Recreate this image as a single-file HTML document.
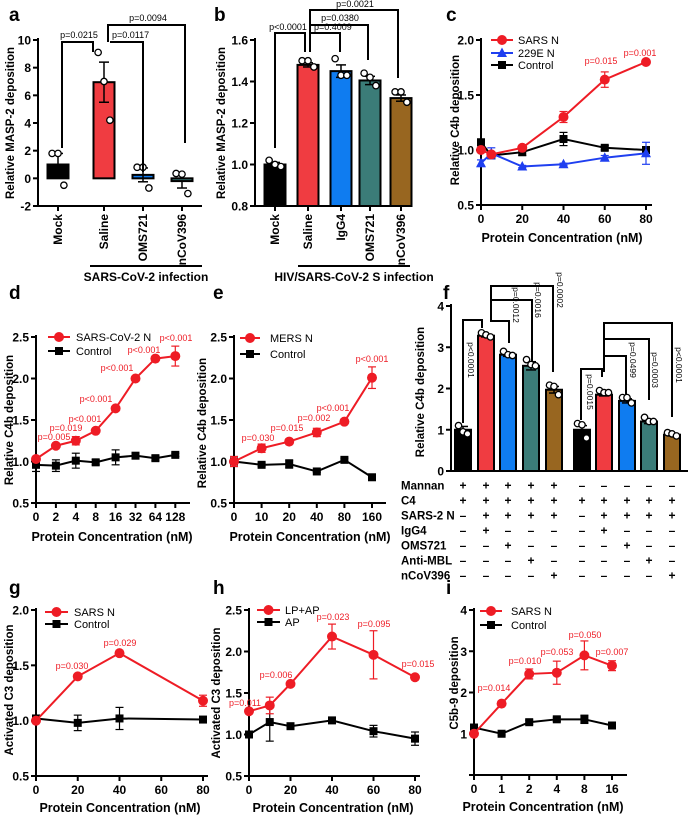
<!DOCTYPE html>
<html><head><meta charset="utf-8"><style>
html,body{margin:0;padding:0;background:#fff;}
svg{display:block;font-family:"Liberation Sans",Arial,sans-serif;}
</style></head><body>
<svg id="fig" width="688" height="816" viewBox="0 0 688 816" xmlns="http://www.w3.org/2000/svg"></svg>
<script>
// ---------- DATA ----------
const aCats = ["Mock","Saline","OMS721","nCoV396"];
const aVals = [1.0, 6.95, 0.25, -0.2];
const aErrs = [0.8, 1.45, 0.5, 0.5];
const aDots = [[1.8,1.8,-0.5],[9.1,7.0,4.2],[0.8,0.8,-0.7],[0.35,0.3,-1.1]];
const bCats = ["Mock","Saline","IgG4","OMS721","nCoV396"];
const bVals = [1.0, 1.48, 1.45, 1.405, 1.32];
const bErrs = [0.01, 0.01, 0.03, 0.02, 0.015];
const bDots = [[1.02,1.0,0.99],[1.5,1.5,1.47],[1.51,1.43,1.43],[1.44,1.42,1.38],[1.35,1.35,1.3]];
const cX = [0,5,20,40,60,80];
const cSars = [1.0,0.96,1.02,1.3,1.64,1.8];
const cSarsErr = [0.02,0.02,0.02,0.05,0.07,0.01];
const c229 = [0.88,0.97,0.85,0.87,0.93,0.97];
const c229Err = [0.03,0.05,0.01,0.01,0.02,0.1];
const cCtrl = [1.07,0.95,0.98,1.1,1.02,1.0];
const cCtrlErr = [0.03,0.03,0.03,0.06,0.02,0.03];
const dCats = ["0","2","4","8","16","32","64","128"];
const dSars = [1.03,1.19,1.25,1.37,1.64,2.0,2.24,2.27];
const dSarsErr = [0.03,0.02,0.05,0.02,0.02,0.01,0.02,0.12];
const dCtrl = [0.96,0.95,1.01,0.99,1.05,1.07,1.04,1.08];
const dCtrlErr = [0.08,0.07,0.09,0.03,0.09,0.03,0.03,0.02];
const eCats = ["0","10","20","40","80","160"];
const eMers = [1.0,1.16,1.24,1.35,1.48,2.01];
const eMersErr = [0.06,0.05,0.03,0.05,0.02,0.13];
const eCtrl = [1.0,0.96,0.97,0.88,1.02,0.81];
const eCtrlErr = [0.06,0.02,0.05,0.01,0.02,0.01];
const fVals = [1.0,3.28,2.82,2.55,1.97, 1.0,1.85,1.7,1.2,0.88];
const fErrs = [0.08,0.03,0.04,0.1,0.08, 0.1,0.03,0.05,0.05,0.03];
const fDots = [[1.1,0.95,0.9],[3.35,3.3,3.25],[2.9,2.82,2.8],[2.7,2.58,2.55],[2.08,2.05,1.85],[1.15,1.12,0.8],[1.95,1.9,1.9],[1.78,1.78,1.65],[1.3,1.2,1.2],[0.93,0.9,0.85]];
const fColors = ["#000000","#f03c41","#0f7cf0","#3b7c78","#986620","#000000","#f03c41","#0f7cf0","#3b7c78","#986620"];
const fRowNames = ["Mannan","C4","SARS-2 N","IgG4","OMS721","Anti-MBL","nCoV396"];
const fRows = ["+++++-----","++++++++++","-++++-++++","-+----+---","--+----+--","---+----+-","----+----+"];
const gX = [0,20,40,80];
const gSars = [1.0,1.4,1.61,1.18];
const gSarsErr = [0.01,0.02,0.01,0.05];
const gCtrl = [1.02,0.98,1.02,1.01];
const gCtrlErr = [0.02,0.07,0.1,0.01];
const hX = [0,10,20,40,60,80];
const hLP = [1.28,1.35,1.61,2.18,1.96,1.69];
const hLPErr = [0.02,0.1,0.03,0.15,0.29,0.02];
const hAP = [1.0,1.15,1.1,1.17,1.04,0.95];
const hAPErr = [0.01,0.23,0.02,0.02,0.07,0.08];
const iCats = ["0","1","2","4","8","16"];
const iSars = [1.0,1.73,2.45,2.48,2.9,2.65];
const iSarsErr = [0.05,0.05,0.12,0.28,0.35,0.12];
const iCtrl = [1.15,1.0,1.28,1.35,1.35,1.2];
const iCtrlErr = [0.08,0.03,0.05,0.05,0.1,0.03];

// ---------- HELPERS ----------
const NS = "http://www.w3.org/2000/svg";
const svg = document.getElementById('fig');
const RED = "#ee1c25", BLUE = "#1f3ff0";
function mk(tag, attrs, name, parent) {
  const e = document.createElementNS(NS, tag);
  for (const k in attrs) e.setAttribute(k, attrs[k]);
  
  
  (parent || svg).appendChild(e);
  return e;
}
function line(x1,y1,x2,y2,name,stroke,w){ return mk('line',{x1:x1,y1:y1,x2:x2,y2:y2,stroke:stroke||'#000','stroke-width':w||2},name); }
function txt(x,y,s,name,o){
  o=o||{};
  const a={x:x,y:y,'font-size':o.size||12,'font-weight':o.weight||'bold',fill:o.fill||'#000','text-anchor':o.anchor||'middle'};
  if(o.rot!==undefined) a.transform='rotate('+o.rot+' '+x+' '+y+')';
  const t=mk('text',a,name);
  t.textContent=s; return t;
}
function panelLetter(x,y,s){ txt(x,y,s,'panel-label-'+s,{size:19,anchor:'start'}); }
function yAxis(p, ticks, labels, name){
  line(p.x0, p.yt-2, p.x0, p.yb+1, name+'-y-axis');
  ticks.forEach((v,i)=>{
    const y=p.ys(v);
    line(p.x0-5,y,p.x0,y,name+'-y-tick');
    if(labels[i]!=='') txt(p.x0-7,y+4.5,labels[i],name+'-y-tick-label',{anchor:'end',size:12});
  });
}
function yTitle(x,y,s,name){ txt(x,y,s,name,{rot:-90,size:11.5}); }
function marker(type,x,y,color,name){
  if(type==='c') mk('circle',{cx:x,cy:y,r:5,fill:color},name);
  else if(type==='s') mk('rect',{x:x-4,y:y-4,width:8,height:8,fill:color},name);
  else mk('polygon',{points:(x)+','+(y-5.5)+' '+(x-5)+','+(y+4)+' '+(x+5)+','+(y+4),fill:color},name);
}
function series(p, xs, vals, errs, color, type, name){
  let d='';
  vals.forEach((v,i)=>{ d+=(i?'L':'M')+p.xs(xs[i],i)+','+p.ys(v); });
  mk('path',{d:d,fill:'none',stroke:color,'stroke-width':2},name+'-line');
  vals.forEach((v,i)=>{
    const x=p.xs(xs[i],i);
    const y1=p.ys(v+errs[i]), y2=p.ys(v-errs[i]);
    line(x,y1,x,y2,name+'-error-bar',color,1.2);
    line(x-4,y1,x+4,y1,name+'-error-cap',color,1.2);
    line(x-4,y2,x+4,y2,name+'-error-cap',color,1.2);
  });
  vals.forEach((v,i)=>{ marker(type,p.xs(xs[i],i),p.ys(v),color,name+'-point'); });
}
function legend(x1,x2,y,tx,label,color,type,name){
  line(x1,y,x2,y,name+'-legend-line',color,2);
  marker(type,(x1+x2)/2,y,color,name+'-legend-marker');
  txt(tx,y+4,label,name+'-legend-label',{anchor:'start',size:11,weight:'normal'});
}
function ptxt(x,y,s,name,o){ o=o||{}; return txt(x,y,s,name,{size:o.size||9,weight:'normal',fill:o.fill||'#000',anchor:o.anchor||'middle',rot:o.rot}); }
function mkScale(x0,xEnd,yt,yb,ymin,ymax,xfun){
  return {x0:x0,xEnd:xEnd,yt:yt,yb:yb,ys:v=>yb-(v-ymin)/(ymax-ymin)*(yb-yt),xs:xfun};
}
function xAxisNum(p, ticks, labels, name){
  line(p.x0-1,p.yb,p.xEnd,p.yb,name+'-x-axis');
  ticks.forEach((t,i)=>{
    const x=p.xs(t,i);
    line(x,p.yb,x,p.yb+5,name+'-x-tick');
    txt(x,p.yb+18,labels[i],name+'-x-tick-label',{size:12});
  });
}
function bars(p, vals, errs, dots, colors, cx, w, base, name){
  vals.forEach((v,i)=>{
    const x=cx[i], y0=p.ys(base), y=p.ys(v);
    mk('rect',{x:x-w/2,y:Math.min(y,y0),width:w,height:Math.abs(y0-y),fill:colors[i],stroke:'#000','stroke-width':2},name+'-bar');
    const ye=p.ys(v+(v>=0?errs[i]:-errs[i]));
    line(x,y,x,ye,name+'-error-bar','#000',1.5);
    line(x-5,ye,x+5,ye,name+'-error-cap','#000',1.5);
    if(v>=0){ const yl=p.ys(v-errs[i]); line(x,y,x,yl,name+'-error-bar','#000',1.5); line(x-5,yl,x+5,yl,name+'-error-cap','#000',1.5);}
    dots[i].forEach((d,j)=>{
      mk('circle',{cx:x+(j-1)*w*0.28,cy:p.ys(d),r:3.2,fill:'#fff',stroke:'#000','stroke-width':1.3},name+'-data-point');
    });
  });
}
function bracket(xl,yl,xr,yr,ytop,name){
  mk('path',{d:'M'+xl+','+yl+'V'+ytop+'H'+xr+'V'+yr,fill:'none',stroke:'#000','stroke-width':2},name);
}

// ---------- PANEL A ----------
panelLetter(9,21,'a');
(function(){
  const cx=[58,104,143,182];
  const p=mkScale(38,202,40,206,-2,10,null);
  yAxis(p,[-2,0,2,4,6,8,10],['-2','0','2','4','6','8','10'],'a');
  line(37,206,202,206,'a-x-axis');
  bars(p,aVals,aErrs,aDots,['#000','#f03c41','#0f7cf0','#3b7c78'],cx,21,0,'a');
  aCats.forEach((c,i)=>{ line(cx[i],206,cx[i],211,'a-x-tick'); txt(cx[i]+4,214,c,'a-x-tick-label',{rot:-90,anchor:'end',size:12}); });
  yTitle(14,123,'Relative MASP-2 deposition','a-y-axis-title');
  bracket(62,148,93,52,42,'a-bracket-mock-saline');
  ptxt(79,38,'p=0.0215','a-p-value');
  bracket(110,42,143,172,42,'a-bracket-saline-oms721');
  ptxt(112,38,'p=0.0117','a-p-value',{anchor:'start'});
  bracket(108,42,185,143,25,'a-bracket-saline-ncov396');
  ptxt(148,21,'p=0.0094','a-p-value');
  line(90,266,202,266,'a-group-line');
  txt(146,281,'SARS-CoV-2 infection','a-group-label',{size:12});
})();

// ---------- PANEL B ----------
panelLetter(214,21,'b');
(function(){
  const cx=[275,308,341,370,401];
  const p=mkScale(255,412,40,206,0.8,1.6,null);
  yAxis(p,[0.8,1.0,1.2,1.4,1.6],['0.8','1.0','1.2','1.4','1.6'],'b');
  line(254,206,412,206,'b-x-axis');
  bars(p,bVals,bErrs,bDots,['#000','#f03c41','#0f7cf0','#3b7c78','#986620'],cx,21,0.8,'b');
  bCats.forEach((c,i)=>{ line(cx[i],206,cx[i],211,'b-x-tick'); txt(cx[i]+4,214,c,'b-x-tick-label',{rot:-90,anchor:'end',size:12}); });
  yTitle(225,123,'Relative MASP-2 deposition','b-y-axis-title');
  bracket(275,148,305,52,33,'b-bracket-mock-saline');
  ptxt(288,30,'p<0.0001','b-p-value');
  bracket(310,52,340,52,33,'b-bracket-saline-igg4');
  ptxt(314,30,'p=0.4009','b-p-value',{anchor:'start'});
  bracket(310,33,368,60,25,'b-bracket-saline-oms721');
  ptxt(340,21,'p=0.0380','b-p-value');
  bracket(310,25,398,78,10,'b-bracket-saline-ncov396');
  ptxt(355,7,'p=0.0021','b-p-value');
  line(298,266,410,266,'b-group-line');
  txt(354,281,'HIV/SARS-CoV-2 S infection','b-group-label',{size:12});
})();

// ---------- PANEL C ----------
panelLetter(446,21,'c');
(function(){
  const p=mkScale(481,652,40,205,0.5,2.0,(x)=>481+x/80*165);
  yAxis(p,[0.5,1.0,1.5,2.0],['0.5','1.0','1.5','2.0'],'c');
  xAxisNum(p,[0,20,40,60,80],['0','20','40','60','80'],'c');
  series(p,cX,cCtrl,cCtrlErr,'#000','s','c-control');
  series(p,cX,c229,c229Err,BLUE,'t','c-229e-n');
  series(p,cX,cSars,cSarsErr,RED,'c','c-sars-n');
  legend(491,513,40,518,'SARS N',RED,'c','c-sars-n');
  legend(491,513,53,518,'229E N',BLUE,'t','c-229e-n');
  legend(491,513,65,518,'Control','#000','s','c-control');
  ptxt(601,64,'p=0.015','c-p-value',{fill:RED});
  ptxt(640,56,'p=0.001','c-p-value',{fill:RED});
  yTitle(459,120,'Relative C4b deposition','c-y-axis-title');
  txt(562,242,'Protein Concentration (nM)','c-x-axis-title',{size:12.5});
})();

// ---------- PANEL D ----------
panelLetter(9,299,'d');
(function(){
  const p=mkScale(36,190,337,503,0.5,2.5,(x,i)=>36+i*19.9);
  yAxis(p,[0.5,1.0,1.5,2.0,2.5],['0.5','1.0','1.5','2.0','2.5'],'d');
  xAxisNum(p,dCats,dCats,'d');
  series(p,dCats,dCtrl,dCtrlErr,'#000','s','d-control');
  series(p,dCats,dSars,dSarsErr,RED,'c','d-sars-cov-2-n');
  legend(48,70,337,76,'SARS-CoV-2 N',RED,'c','d-sars-cov-2-n');
  legend(48,70,351,76,'Control','#000','s','d-control');
  const pl=[[54,440,'p=0.005'],[66,431,'p=0.019'],[85,422,'p<0.001'],[96,402,'p<0.001'],[117,371,'p<0.001'],[144,353,'p<0.001'],[176,341,'p<0.001']];
  pl.forEach(a=>ptxt(a[0],a[1],a[2],'d-p-value',{fill:RED}));
  yTitle(13,420,'Relative C4b deposition','d-y-axis-title');
  txt(112,541,'Protein Concentration (nM)','d-x-axis-title',{size:12.5});
})();

// ---------- PANEL E ----------
panelLetter(213,299,'e');
(function(){
  const p=mkScale(234,386,337,503,0.5,2.5,(x,i)=>234+i*27.6);
  yAxis(p,[0.5,1.0,1.5,2.0,2.5],['0.5','1.0','1.5','2.0','2.5'],'e');
  xAxisNum(p,eCats,eCats,'e');
  series(p,eCats,eCtrl,eCtrlErr,'#000','s','e-control');
  series(p,eCats,eMers,eMersErr,RED,'c','e-mers-n');
  legend(240,260,338,270,'MERS N',RED,'c','e-mers-n');
  legend(240,260,354,270,'Control','#000','s','e-control');
  const pl=[[258,441,'p=0.030'],[287,431,'p=0.015'],[314,421,'p=0.002'],[333,411,'p<0.001'],[372,362,'p<0.001']];
  pl.forEach(a=>ptxt(a[0],a[1],a[2],'e-p-value',{fill:RED}));
  yTitle(206,423,'Relative C4b deposition','e-y-axis-title');
  txt(310,541,'Protein Concentration (nM)','e-x-axis-title',{size:12.5});
})();

// ---------- PANEL F ----------
panelLetter(443,299,'f');
(function(){
  const cx=[463,486,508,531,554,582,604,627,649,672];
  const p=mkScale(451,688,306,471,0,4,null);
  yAxis(p,[0,1,2,3,4],['0','1','2','3','4'],'f');
  line(450,471,688,471,'f-x-axis');
  bars(p,fVals,fErrs,fDots,fColors,cx,16,0,'f');
  yTitle(424,392,'Relative C4b deposition','f-y-axis-title');
  bracket(463,423,482,328,320,'f-bracket-1');
  bracket(491,322,509,343,321,'f-bracket-2');
  bracket(491,322,532,362,300,'f-bracket-3');
  bracket(491,301,553,372,286,'f-bracket-4');
  bracket(581,420,602,377,369,'f-bracket-5');
  bracket(604,372,626,395,356,'f-bracket-6');
  bracket(604,357,649,400,339,'f-bracket-7');
  bracket(604,340,672,417,323,'f-bracket-8');
  const pv=[[468,360,'p<0.0001'],[513,305,'p=0.0012'],[535,300,'p=0.0016'],[557,290,'p=0.0002'],[587,392,'p=0.0015'],[630,360,'p=0.0499'],[652,370,'p=0.0003'],[676,365,'p<0.0001']];
  pv.forEach(a=>ptxt(a[0],a[1],a[2],'f-p-value',{rot:90,size:8.5}));
  fRowNames.forEach((n,r)=>{
    const y=485+r*15;
    txt(401,y+4.5,n,'f-condition-label',{anchor:'start',size:11.5});
    fRows[r].split('').forEach((s,i)=>{
      txt(cx[i],y+4.5,s==='+'?'+':'\u2013','f-condition-sign',{size:12});
    });
  });
})();

// ---------- PANEL G ----------
panelLetter(9,594,'g');
(function(){
  const p=mkScale(36,208,610,776,0.5,2.0,(x)=>36+x/80*167);
  yAxis(p,[0.5,1.0,1.5,2.0],['0.5','1.0','1.5','2.0'],'g');
  xAxisNum(p,[0,20,40,60,80],['0','20','40','60','80'],'g');
  series(p,gX,gCtrl,gCtrlErr,'#000','s','g-control');
  series(p,gX,gSars,gSarsErr,RED,'c','g-sars-n');
  legend(45,68,612,74,'SARS N',RED,'c','g-sars-n');
  legend(45,68,624,74,'Control','#000','s','g-control');
  ptxt(72,669,'p=0.030','g-p-value',{fill:RED});
  ptxt(120,646,'p=0.029','g-p-value',{fill:RED});
  yTitle(13,690,'Activated C3 deposition','g-y-axis-title');
  txt(120,812,'Protein Concentration (nM)','g-x-axis-title',{size:12.5});
})();

// ---------- PANEL H ----------
panelLetter(213,594,'h');
(function(){
  const p=mkScale(249,420,610,776,0.5,2.5,(x)=>249+x/80*166);
  yAxis(p,[0.5,1.0,1.5,2.0,2.5],['0.5','1.0','1.5','2.0','2.5'],'h');
  xAxisNum(p,[0,20,40,60,80],['0','20','40','60','80'],'h');
  series(p,hX,hAP,hAPErr,'#000','s','h-ap');
  series(p,hX,hLP,hLPErr,RED,'c','h-lp-ap');
  legend(257,280,610,285,'LP+AP',RED,'c','h-lp-ap');
  legend(257,280,622,285,'AP','#000','s','h-ap');
  const pl=[[245,706,'p=0.011'],[276,678,'p=0.006'],[333,620,'p=0.023'],[374,627,'p=0.095'],[418,667,'p=0.015']];
  pl.forEach(a=>ptxt(a[0],a[1],a[2],'h-p-value',{fill:RED}));
  yTitle(220,693,'Activated C3 deposition','h-y-axis-title');
  txt(333,812,'Protein Concentration (nM)','h-x-axis-title',{size:12.5});
})();

// ---------- PANEL I ----------
panelLetter(446,594,'i');
(function(){
  const p=mkScale(474,627,610,775,0,4,(x,i)=>474+i*27.6);
  yAxis(p,[0,1,2,3,4],['','1','2','3','4'],'i');
  xAxisNum(p,iCats,iCats,'i');
  series(p,iCats,iCtrl,iCtrlErr,'#000','s','i-control');
  series(p,iCats,iSars,iSarsErr,RED,'c','i-sars-n');
  legend(480,502,611,511,'SARS N',RED,'c','i-sars-n');
  legend(480,502,625,511,'Control','#000','s','i-control');
  const pl=[[494,691,'p=0.014'],[525,664,'p=0.010'],[557,655,'p=0.053'],[585,638,'p=0.050'],[612,655,'p=0.007']];
  pl.forEach(a=>ptxt(a[0],a[1],a[2],'i-p-value',{fill:RED}));
  yTitle(458,683,'C5b-9 deposition','i-y-axis-title');
  txt(543,811,'Protein Concentration (nM)','i-x-axis-title',{size:12.5});
})();
</script>
</body></html>
